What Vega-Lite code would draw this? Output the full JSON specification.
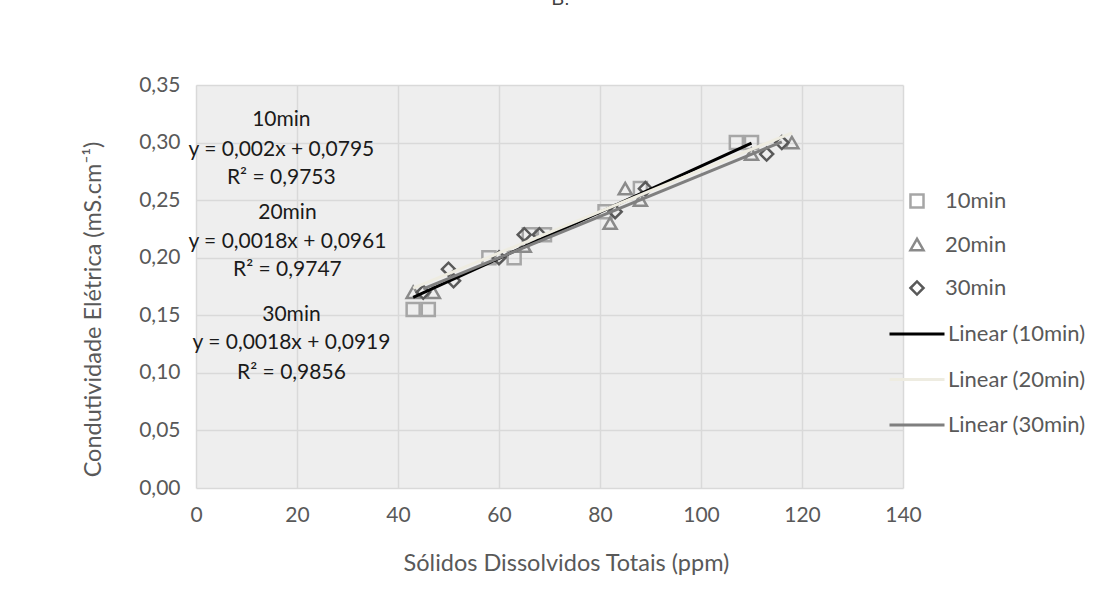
{
  "$schema": "https://vega.github.io/schema/vega-lite/v6.json",
  "width": 707,
  "height": 403,
  "autosize": {"type": "none"},
  "padding": {"left": 196, "top": 85, "right": 201, "bottom": 115},
  "background": "white",
  "title": {"text": "B.", "font": "Liberation Sans", "fontSize": 19, "fontWeight": "normal", "color": "#404040", "anchor": "middle", "offset": 65, "dx": 11},
  "config": {
    "view": {"fill": "#eeeeee", "stroke": null},
    "font": "Lato",
    "axis": {
      "labelFont": "Lato", "labelFontSize": 21, "labelColor": "#595959",
      "titleFont": "Lato", "titleFontSize": 23.5, "titleFontWeight": "normal", "titleColor": "#595959",
      "gridColor": "#d9d9d9", "gridWidth": 1.5, "domain": false, "ticks": false,
      "labelFlush": false, "labelOverlap": false, "labelBound": false
    },
    "legend": {"labelFont": "Lato", "labelFontSize": 22, "labelColor": "#595959"}
  },
  "datasets": {
    "pontos": [
      {"serie": "10min", "tds": 43, "ce": 0.155},
      {"serie": "10min", "tds": 46, "ce": 0.155},
      {"serie": "10min", "tds": 58, "ce": 0.20},
      {"serie": "10min", "tds": 63, "ce": 0.20},
      {"serie": "10min", "tds": 66, "ce": 0.22},
      {"serie": "10min", "tds": 69, "ce": 0.22},
      {"serie": "10min", "tds": 81, "ce": 0.24},
      {"serie": "10min", "tds": 88, "ce": 0.26},
      {"serie": "10min", "tds": 107, "ce": 0.30},
      {"serie": "10min", "tds": 110, "ce": 0.30},
      {"serie": "20min", "tds": 43, "ce": 0.17},
      {"serie": "20min", "tds": 47, "ce": 0.17},
      {"serie": "20min", "tds": 65, "ce": 0.21},
      {"serie": "20min", "tds": 82, "ce": 0.23},
      {"serie": "20min", "tds": 85, "ce": 0.26},
      {"serie": "20min", "tds": 88, "ce": 0.25},
      {"serie": "20min", "tds": 110, "ce": 0.29},
      {"serie": "20min", "tds": 118, "ce": 0.30},
      {"serie": "30min", "tds": 45, "ce": 0.17},
      {"serie": "30min", "tds": 50, "ce": 0.19},
      {"serie": "30min", "tds": 51, "ce": 0.18},
      {"serie": "30min", "tds": 60, "ce": 0.20},
      {"serie": "30min", "tds": 65, "ce": 0.22},
      {"serie": "30min", "tds": 68, "ce": 0.22},
      {"serie": "30min", "tds": 83, "ce": 0.24},
      {"serie": "30min", "tds": 89, "ce": 0.26},
      {"serie": "30min", "tds": 113, "ce": 0.29},
      {"serie": "30min", "tds": 116, "ce": 0.30}
    ],
    "tendencias": [
      {"linha": "Linear (10min)", "tds": 43, "ce": 0.1655},
      {"linha": "Linear (10min)", "tds": 110, "ce": 0.2995},
      {"linha": "Linear (20min)", "tds": 43, "ce": 0.1735},
      {"linha": "Linear (20min)", "tds": 118, "ce": 0.3085},
      {"linha": "Linear (30min)", "tds": 45, "ce": 0.1729},
      {"linha": "Linear (30min)", "tds": 116, "ce": 0.3007}
    ],
    "rotulos": [
      {"texto": "10min", "tds": 16.9, "ce": 0.3197},
      {"texto": "y = 0,002x + 0,0795", "tds": 16.9, "ce": 0.2937},
      {"texto": "R² = 0,9753", "tds": 16.9, "ce": 0.2693},
      {"texto": "20min", "tds": 18.1, "ce": 0.2389},
      {"texto": "y = 0,0018x + 0,0961", "tds": 18.1, "ce": 0.2137},
      {"texto": "R² = 0,9747", "tds": 18.1, "ce": 0.1894},
      {"texto": "30min", "tds": 18.9, "ce": 0.1503},
      {"texto": "y = 0,0018x + 0,0919", "tds": 18.9, "ce": 0.126},
      {"texto": "R² = 0,9856", "tds": 18.9, "ce": 0.0999}
    ]
  },
  "layer": [
    {
      "data": {"name": "pontos"},
      "mark": {"type": "point", "filled": false, "strokeWidth": 2.5, "size": 170, "opacity": 1},
      "encoding": {
        "x": {
          "field": "tds", "type": "quantitative",
          "scale": {"domain": [0, 140], "nice": false, "zero": false},
          "axis": {
            "values": [0, 20, 40, 60, 80, 100, 120, 140],
            "title": "Sólidos Dissolvidos Totais (ppm)",
            "labelPadding": 16, "grid": true,
            "titleX": 370, "titleY": 75, "titleAnchor": null, "titleAlign": "center", "titleBaseline": "middle"
          }
        },
        "y": {
          "field": "ce", "type": "quantitative",
          "scale": {"domain": [0, 0.35], "nice": false, "zero": false},
          "axis": {
            "values": [0, 0.05, 0.1, 0.15, 0.2, 0.25, 0.3, 0.35],
            "labelExpr": "replace(format(datum.value, '.2f'), '.', ',')",
            "title": "Condutividade Elétrica  (mS.cm⁻¹)",
            "labelPadding": 16, "grid": true,
            "titleAngle": -90, "titleX": -103, "titleY": 224, "titleAlign": "center", "titleBaseline": "middle"
          }
        },
        "color": {
          "field": "serie", "type": "nominal",
          "scale": {"domain": ["10min", "20min", "30min"], "range": ["#a6a6a6", "#8a8a8a", "#595959"]},
          "legend": {"orient": "none", "legendX": 710, "legendY": 105, "title": null, "symbolSize": 170, "symbolStrokeWidth": 2.5, "rowPadding": 20.5, "labelOffset": 17}
        },
        "shape": {
          "field": "serie", "type": "nominal",
          "scale": {"domain": ["10min", "20min", "30min"], "range": ["square", "triangle-up", "diamond"]},
          "legend": {"orient": "none", "legendX": 710, "legendY": 105, "title": null, "symbolSize": 170, "symbolStrokeWidth": 2.5, "rowPadding": 20.5, "labelOffset": 17}
        }
      }
    },
    {
      "data": {"name": "tendencias"},
      "mark": {"type": "line", "strokeWidth": 3},
      "encoding": {
        "x": {"field": "tds", "type": "quantitative"},
        "y": {"field": "ce", "type": "quantitative"},
        "stroke": {
          "field": "linha", "type": "nominal",
          "scale": {"domain": ["Linear (10min)", "Linear (20min)", "Linear (30min)"], "range": ["#000000", "#eeece1", "#7f7f7f"]},
          "legend": {"orient": "none", "legendX": 692, "legendY": 220, "title": null, "symbolType": "stroke", "symbolSize": 3025, "symbolStrokeWidth": 3, "rowPadding": 5.5, "labelOffset": 2}
        }
      }
    },
    {
      "data": {"name": "rotulos"},
      "mark": {"type": "text", "font": "Lato", "fontSize": 21, "color": "#1a1a1a", "align": "center", "baseline": "middle"},
      "encoding": {
        "x": {"field": "tds", "type": "quantitative"},
        "y": {"field": "ce", "type": "quantitative"},
        "text": {"field": "texto"}
      }
    }
  ]
}
